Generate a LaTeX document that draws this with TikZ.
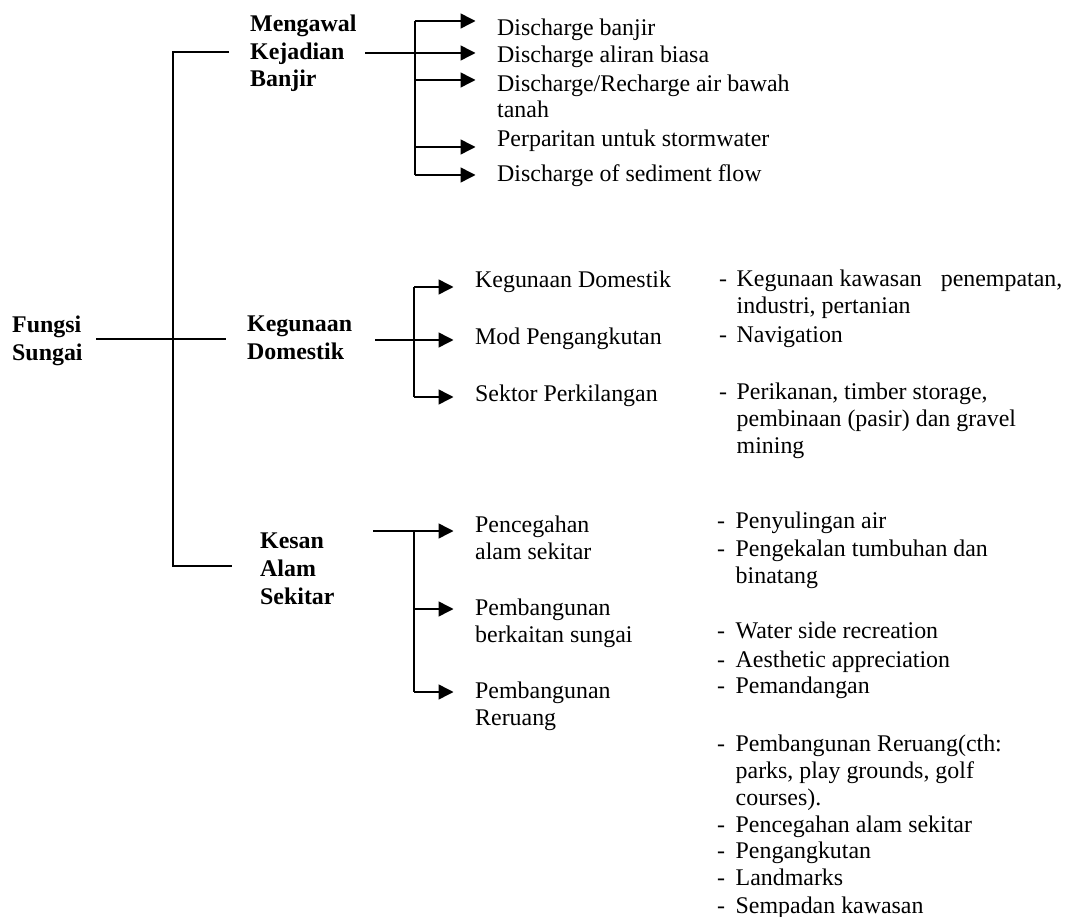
\documentclass[tikz,border=0pt]{standalone}
\usepackage{fontspec}
\setmainfont{Liberation Serif}
\usetikzlibrary{arrows.meta}
\begin{document}
\begin{tikzpicture}[x=1pt,y=-1pt,
  txt/.style={anchor=base west, inner sep=0pt, align=left, font=\fontsize{23.9}{26.8}\selectfont},
  bold/.style={anchor=base west, inner sep=0pt, align=left, font=\fontsize{23.9}{27.7}\selectfont\bfseries},
  item/.style={txt, inner xsep=21.5pt},
  ln/.style={line width=1.5pt},
  arr/.style={ln, -{Triangle[length=15pt,width=15pt]}},
]
\useasboundingbox (0,0) rectangle (1068,917);

% multi-line nodes are placed at the baseline of their last line
% ---------- level 0 and level 1 ----------
\node[bold] (root) at (12,360) {Fungsi\\Sungai};
\node[bold] (g1) at (250,87) {Mengawal\\Kejadian\\Banjir};
\node[bold] (g2) at (247,359) {Kegunaan\\Domestik};
\node[bold] (g3) at (260,604) {Kesan\\Alam\\Sekitar};

\coordinate (rs) at (96,339);
\coordinate (bt) at (173,52);
\coordinate (bb) at (173,566);
\coordinate (e1) at (229,52);
\coordinate (e2) at (226,339);
\coordinate (e3) at (232,566);
\draw[ln] (rs) -- (e2);
\draw[ln] (e1) -- (bt) -- (bb) -- (e3);

% ---------- group 1 ----------
\node[item] (d1) at (475.5,36)  {Discharge banjir};
\node[item] (d2) at (475.5,63)  {Discharge aliran biasa};
\node[item] (d3) at (475.5,118) {Discharge/Recharge air bawah\\tanah};
\node[item] (d4) at (475.5,147) {Perparitan untuk stormwater};
\node[item] (d5) at (475.5,182) {Discharge of sediment flow};

\coordinate (s1) at (365,53);
\coordinate (v1a) at (415,21);
\coordinate (v1c) at (415,80);
\coordinate (v1d) at (415,147);
\coordinate (v1e) at (415,175);
\draw[ln] (v1a) -- (v1e);
\draw[arr] (v1a) -- (v1a -| d1.west);
\draw[arr] (s1) -- (s1 -| d2.west);
\draw[arr] (v1c) -- (v1c -| d3.west);
\draw[arr] (v1d) -- (v1d -| d4.west);
\draw[arr] (v1e) -- (v1e -| d5.west);

% ---------- group 2 ----------
\node[item] (k1) at (453.5,288) {Kegunaan Domestik};
\node[item] (k2) at (453.5,344) {Mod Pengangkutan};
\node[item] (k3) at (453.5,401) {Sektor Perkilangan};

\coordinate (s2) at (375,340);
\coordinate (v2a) at (414,287);
\coordinate (v2c) at (414,397);
\draw[ln] (v2a) -- (v2c);
\draw[arr] (v2a) -- (v2a -| k1.west);
\draw[arr] (s2) -- (s2 -| k2.west);
\draw[arr] (v2c) -- (v2c -| k3.west);

\node[txt] (r1) at (719,313) {\makebox[17.5pt][l]{-}Kegunaan kawasan\hspace{13pt} penempatan,\\\hspace*{17.5pt}industri, pertanian};
\node[txt] (r2) at (719,342) {\makebox[17.5pt][l]{-}Navigation};
\node[txt] (r3) at (719,453) {\makebox[17.5pt][l]{-}Perikanan, timber storage,\\\hspace*{17.5pt}pembinaan (pasir) dan gravel\\\hspace*{17.5pt}mining};

% ---------- group 3 ----------
\node[item] (p1) at (453.5,559) {Pencegahan\\alam sekitar};
\node[item] (p2) at (453.5,642) {Pembangunan\\berkaitan sungai};
\node[item] (p3) at (453.5,725) {Pembangunan\\Reruang};

\coordinate (s3) at (373,531);
\coordinate (v3b) at (414,609);
\coordinate (v3c) at (414,692);
\draw[ln] (s3 -| v3b) -- (v3c);
\draw[arr] (s3) -- (s3 -| p1.west);
\draw[arr] (v3b) -- (v3b -| p2.west);
\draw[arr] (v3c) -- (v3c -| p3.west);

\node[txt] (q1) at (717,528) {\makebox[18.5pt][l]{-}Penyulingan air};
\node[txt] (q2) at (717,583) {\makebox[18.5pt][l]{-}Pengekalan tumbuhan dan\\\hspace*{18.5pt}binatang};
\node[txt] (q3) at (717,638) {\makebox[18.5pt][l]{-}Water side recreation};
\node[txt] (q4) at (717,667) {\makebox[18.5pt][l]{-}Aesthetic appreciation};
\node[txt] (q5) at (717,693) {\makebox[18.5pt][l]{-}Pemandangan};
\node[txt] (q6) at (717,805) {\makebox[18.5pt][l]{-}Pembangunan Reruang(cth:\\\hspace*{18.5pt}parks, play grounds, golf\\\hspace*{18.5pt}courses).};
\node[txt] (q7) at (717,832) {\makebox[18.5pt][l]{-}Pencegahan alam sekitar};
\node[txt] (q8) at (717,858) {\makebox[18.5pt][l]{-}Pengangkutan};
\node[txt] (q9) at (717,885) {\makebox[18.5pt][l]{-}Landmarks};
\node[txt] (q10) at (717,913) {\makebox[18.5pt][l]{-}Sempadan kawasan};
\end{tikzpicture}
\end{document}
